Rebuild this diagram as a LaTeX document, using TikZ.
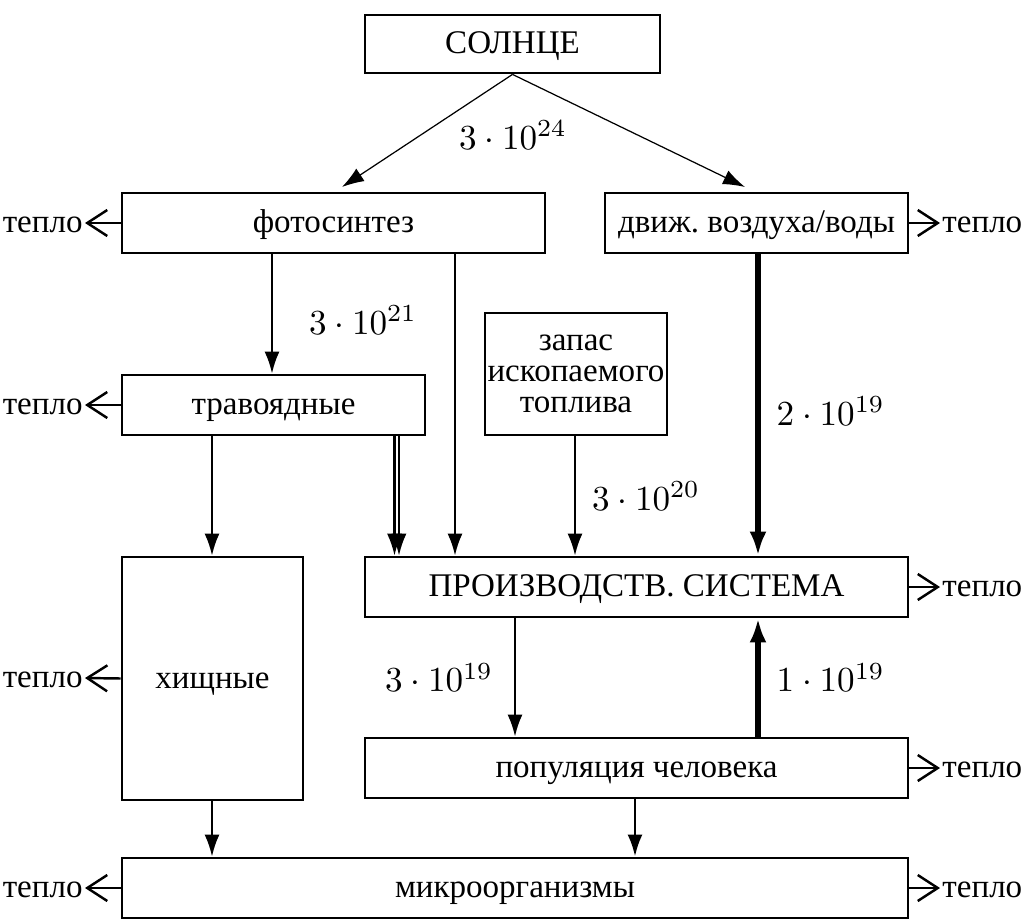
\documentclass[tikz,border=0pt]{standalone}
\usepackage{fontspec}
\setmainfont[Scale=0.94]{Liberation Serif}
\usetikzlibrary{arrows.meta}
\tikzset{
  box/.style={draw,line width=0.8pt,inner sep=0pt},
  onerow/.style={box,text height=1.55ex,text depth=0.25ex},
  flow/.style={-{Latex[length=2.2mm,width=1.5mm]},line width=0.6pt},
  sunflow/.style={-{Latex[length=2.2mm,width=1.5mm]},line width=0.35pt},
  bigflow/.style={-{Latex[length=2.4mm,width=1.7mm]},line width=1.5pt},
  heat/.style={-{Straight Barb[length=2mm,width=2.6mm]},line width=0.7pt},
  heatlbl/.style={inner sep=0.5pt,text height=1.55ex,text depth=0.25ex}
}
\begin{document}
\begin{tikzpicture}
\useasboundingbox (0,0) rectangle (10.25,9.2);
% boxes
\node[onerow,minimum width=2.95cm,minimum height=0.58cm](sun)at(5.125,8.76){СОЛНЦЕ};
\node[onerow,minimum width=4.23cm,minimum height=0.6cm](photo)at(3.335,6.97){фотосинтез};
\node[onerow,minimum width=3.03cm,minimum height=0.6cm](air)at(7.565,6.97){движ.\ воздуха/воды};
\node[onerow,minimum width=3.03cm,minimum height=0.6cm](herb)at(2.735,5.15){травоядные};
\node[box,minimum width=1.82cm,minimum height=1.22cm,align=center](fuel)at(5.76,5.46){запас\\[-0.11cm]ископаемого\\[-0.11cm]топлива};
\node[onerow,minimum width=5.43cm,minimum height=0.6cm](prod)at(6.365,3.33){ПРОИЗВОДСТВ. СИСТЕМА};
\node[onerow,minimum width=1.81cm,minimum height=2.43cm](pred)at(2.125,2.415){хищные};
\node[onerow,minimum width=5.43cm,minimum height=0.6cm](human)at(6.365,1.52){популяция человека};
\node[onerow,minimum width=7.86cm,minimum height=0.6cm](micro)at(5.15,0.32){микроорганизмы};
% flows
\draw[sunflow](sun.south)--(3.42,7.33);
\draw[sunflow](sun.south)--(7.45,7.33);
\node at(5.13,7.85){$3\cdot10^{24}$};
\draw[flow](photo.south-|2.72,0)--(herb.north-|2.72,0)node[pos=0.55,right=0.25cm]{$3\cdot10^{21}$};
\draw[flow](photo.south-|4.55,0)--(prod.north-|4.55,0);
\draw[flow](herb.south-|2.12,0)--(pred.north-|2.12,0);
\draw[flow](herb.south-|3.945,0)--(prod.north-|3.945,0);
\draw[flow](herb.south-|3.99,0)--(prod.north-|3.99,0);
\draw[flow](fuel.south-|5.75,0)--(prod.north-|5.75,0)node[pos=0.5,right=0.05cm]{$3\cdot10^{20}$};
\draw[bigflow](air.south-|7.58,0)--(prod.north-|7.58,0)node[pos=0.52,right=0.05cm]{$2\cdot10^{19}$};
\draw[flow](prod.south-|5.15,0)--(human.north-|5.15,0)node[pos=0.5,left=0.1cm]{$3\cdot10^{19}$};
\draw[bigflow](human.north-|7.58,0)--(prod.south-|7.58,0)node[pos=0.5,right=0.05cm]{$1\cdot10^{19}$};
\draw[flow](pred.south-|2.12,0)--(micro.north-|2.12,0);
\draw[flow,line width=0.8pt](human.south-|6.35,0)--(micro.north-|6.35,0);
% heat losses
\node[heatlbl,anchor=east](h1)at(0.85,6.97){тепло};
\node[heatlbl,anchor=east](h2)at(0.85,5.15){тепло};
\node[heatlbl,anchor=east](h3)at(0.85,2.42){тепло};
\node[heatlbl,anchor=east](h4)at(0.85,0.32){тепло};
\node[heatlbl,anchor=west](h5)at(9.40,6.97){тепло};
\node[heatlbl,anchor=west](h6)at(9.40,3.33){тепло};
\node[heatlbl,anchor=west](h7)at(9.40,1.52){тепло};
\node[heatlbl,anchor=west](h8)at(9.40,0.32){тепло};
\draw[heat](photo.west)--(h1.east);
\draw[heat](herb.west)--(h2.east);
\draw[heat](pred.west)--(h3.east);
\draw[heat](micro.west)--(h4.east);
\draw[heat](air.east)--(h5.west);
\draw[heat](prod.east)--(h6.west);
\draw[heat](human.east)--(h7.west);
\draw[heat](micro.east)--(h8.west);
\end{tikzpicture}
\end{document}
